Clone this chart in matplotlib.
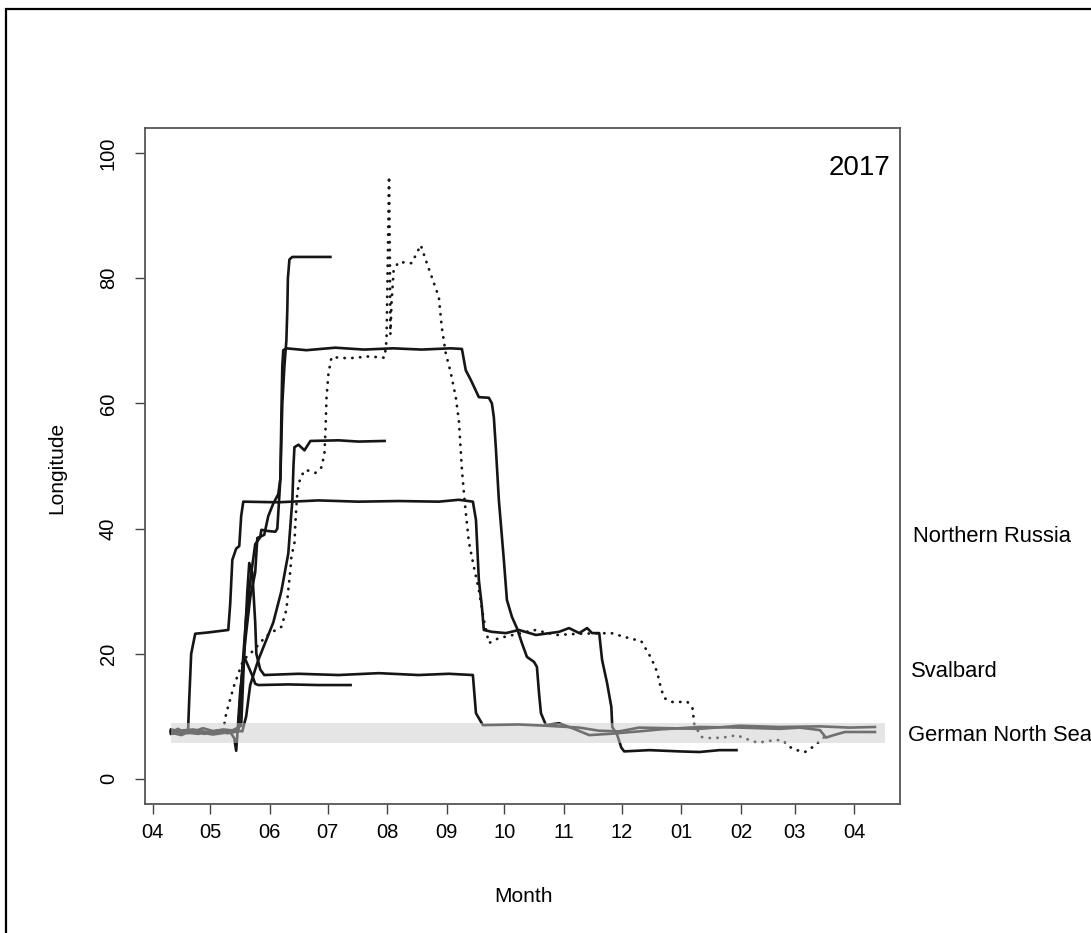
import matplotlib.pyplot as plt
import matplotlib.dates as mdates
import matplotlib.transforms as mtransforms
from matplotlib.patches import Rectangle
import numpy as np
import pandas as pd

plt.rcParams['font.family'] = ['Liberation Sans', 'DejaVu Sans']

start = pd.Timestamp('2017-04-01')

# tracks: days since 1 April 2017 and longitude (deg E)
track_a_day = [9.6, 13.3, 16.4, 18.5, 19.0, 20.1, 22.2, 28.9, 34.1, 39.4, 40.4, 41.5, 43.5, 45.1, 46.1,
               47.2, 65.4, 86.3, 107.1, 128.0, 148.9, 159.3, 166.6, 168.2, 169.7, 171.3, 172.3, 176.5,
               183.8, 190.5, 199.4, 211.4, 216.6, 221.9, 226.0, 228.6, 232.3, 233.8, 236.4, 238.6, 239.1,
               241.7, 243.8, 245.3, 258.4, 274.0, 284.4, 294.9, 303.7]
track_a_lon = [7.5, 8.0, 7.4, 7.8, 12, 20, 23.2, 23.4, 23.6, 23.8, 28, 35, 36.8, 37.2, 42,
               44.3, 44.2, 44.5, 44.3, 44.4, 44.3, 44.6, 44.3, 41.4, 31.8, 27.5, 23.8, 23.5,
               23.3, 23.8, 23.0, 23.5, 24.1, 23.3, 24.1, 23.3, 23.3, 19.0, 15.3, 11.5, 8.3,
               7.0, 5.0, 4.4, 4.6, 4.4, 4.3, 4.6, 4.6]

track_b_day = [9.6, 21.1, 31.5, 42.0, 44.6, 46.1, 48.7, 51.4, 53.4, 56.0, 56.6, 60.2, 63.9, 64.9,
               66.5, 67.5, 68.6, 69.6, 70.1, 70.4, 71.2, 72.7, 92.5]
track_b_lon = [7.6, 7.9, 7.3, 7.8, 8.0, 15, 26, 33, 37.5, 38.6, 39.8, 39.6, 39.5, 40,
               48, 60, 66, 70, 75, 80, 83.0, 83.4, 83.4]

track_c_day = [9.6, 15.0, 21.0, 27.0, 33.0, 39.0, 44.6, 46.1, 48.2, 50.8, 53.4, 54.5, 56.0, 58.1,
               60.2, 62.8, 65.4, 66.5, 67.0, 67.5, 68.0, 69.6, 80, 95, 110, 125, 140, 155, 160.9,
               162.9, 165.6, 169.7, 174.9, 176.5, 177.5, 178.6, 180.1, 182.7, 184.3, 186.9, 189.5,
               192.1, 194.7, 198.4, 199.9, 201.0, 202.0, 204.6, 211.4, 219.2, 227.1, 237.5, 253.1,
               263.6, 284.4, 305.3, 326.2, 336.6, 347.1, 350.2, 353.2, 360.0, 375.7]
track_c_lon = [7.4, 7.0, 7.8, 7.2, 7.7, 7.3, 7.6, 15, 22, 29, 33, 38.5, 38.7, 39,
               42, 44, 45.5, 48, 58, 66, 68.5, 68.8, 68.5, 68.9, 68.6, 68.8, 68.6, 68.8, 68.7,
               65.3, 63.7, 61.0, 60.9, 60.0, 57.8, 52.6, 44.6, 35, 28.6, 25.9, 24.1,
               21.7, 19.5, 18.7, 17.9, 13.7, 10.5, 8.6, 8.9, 8.0, 7.0, 7.2, 7.6,
               7.9, 8.3, 8.2, 8.0, 8.2, 7.8, 6.6, 6.9, 7.5, 7.5]

track_d_day = [9.6, 23.7, 36.8, 46.7, 48.7, 50.8, 55.0, 62.8, 67.0, 70.6, 72.2, 72.7, 73.3, 73.8,
               75.9, 79.0, 82.1, 96.8, 107.1, 120.7]
track_d_lon = [7.7, 7.2, 7.9, 7.6, 10, 15, 19, 25, 30, 36, 42.5, 44.3, 50, 53,
               53.4, 52.5, 54, 54.1, 53.9, 54.0]

track_e_day = [9.6, 18.5, 26.3, 34.1, 42.0, 46.1, 47.7, 49.3, 50.3, 51.9, 53.4, 54.0, 56.0, 58.1,
               75.9, 96.8, 117.6, 138.4, 154.0, 166.6, 168.2, 171.8, 190.5, 204.6, 221.9, 232.3,
               242.7, 253.1, 284.4, 305.3, 326.2, 347.1, 362.6, 375.7]
track_e_lon = [7.9, 7.3, 8.1, 7.4, 7.8, 8.5, 20, 30, 34.5, 33, 25, 20, 17.5, 16.6,
               16.8, 16.6, 16.9, 16.6, 16.8, 16.6, 10.5, 8.6, 8.7, 8.5, 8.2, 7.7,
               7.6, 8.2, 8.0, 8.5, 8.3, 8.4, 8.2, 8.3]

track_f_day = [9.6, 21.1, 31.5, 40.4, 42.5, 43.5, 44.1, 45.6, 47.7, 49.8, 51.9, 53.4, 55.0, 70.6,
               86.3, 103.0]
track_f_lon = [7.2, 7.6, 7.1, 7.5, 6.5, 4.5, 7, 14, 19.5, 18, 16.5, 15.2, 15.0, 15.1,
               15.0, 15.0]

# dotted track
track_g_day = [9.6, 15.9, 23.7, 31.5, 36.8, 37.8, 38.8, 42.5, 47.2, 52.4, 58.7, 61.3, 67.0, 69.6,
               70.6, 71.7, 72.2, 73.8, 74.3, 74.8, 75.3, 76.9, 79.5, 84.7, 87.9, 89.4, 89.9, 90.5,
               91.5, 93.1, 101.9, 112.4, 120.7, 121.7, 122.3, 123.0, 123.4, 123.7, 124.3, 125.4,
               128.0, 134.8, 139.5, 142.1, 145.2, 148.9, 150.4, 152.5, 155.1, 157.7, 159.3, 160.9,
               162.4, 164.5, 167.1, 169.7, 172.3, 174.9, 180.1, 190.5, 198.4, 210.4, 221.9, 238.6,
               245.3, 254.2, 258.4, 261.0, 262.6, 263.6, 264.7, 266.2, 270.3, 278.2, 280.8, 281.8,
               285.5, 290.7, 299.1, 303.7, 310.5, 314.7, 323.6, 327.7, 331.4, 335.0, 339.3, 343.4,
               346.1, 349.7]
track_g_lon = [7.6, 7.9, 7.3, 7.8, 7.5, 9.7, 11, 15, 19, 20.5, 22.7, 23.3, 24.3, 27,
               30.2, 33.4, 35.5, 37.7, 40.9, 43.5, 45.8, 48.2, 49.4, 48.9, 49.8, 52, 55.3, 61,
               64.8, 67.4, 67.2, 67.5, 67.3, 70.1, 82, 96.3, 84, 71, 76, 81.3,
               82.6, 82.4, 85.3, 82.9, 80.2, 77, 72.2, 68, 64.9, 61, 57.3, 49.4,
               44.1, 37.9, 33.9, 30.2, 25.4, 21.7, 22.5, 23.2, 23.8, 23.0, 23.2, 23.3,
               22.7, 22, 19.8, 18.2, 16.9, 15.5, 14.2, 12.9, 12.3, 12.3, 11.3, 8.6,
               6.7, 6.5, 6.7, 7.0, 6.2, 5.8, 6.2, 6.2, 5.1, 4.6, 4.3, 5.1,
               5.8, 6.8]

solid_tracks = [(track_a_day, track_a_lon), (track_b_day, track_b_lon), (track_c_day, track_c_lon),
                (track_d_day, track_d_lon), (track_e_day, track_e_lon), (track_f_day, track_f_lon)]

band_dates = ['2017-04-10 14:00', '2018-04-17 00:00']
band_lo, band_hi = 5.8, 8.9

regions = ['Northern Russia', 'Svalbard', 'German North Sea']
region_lon = [38.7, 17.1, 7.0]
region_x = [1.0172, 1.0146, 1.0106]


def to_dates(days):
    return start + pd.to_timedelta(np.array(days), unit='D')


fig = plt.figure(figsize=(10.91, 9.33), dpi=100)
ax = fig.add_axes([0.1329, 0.1383, 0.6920, 0.7245])

for days, lon in solid_tracks:
    ax.plot(to_dates(days), lon, color='#151515', lw=1.9, solid_joinstyle='round')
ax.plot(to_dates(track_g_day), track_g_lon, color='#151515', lw=2.0,
        linestyle=(0, (0.1, 2.7)), dash_capstyle='round')

# translucent band drawn over the tracks
ax.fill_between(pd.to_datetime(band_dates), band_lo, band_hi, color='#cccccc', alpha=0.5,
                lw=0, zorder=5)

ax.set_xlim(pd.Timestamp('2017-03-28 02:00'), pd.Timestamp('2018-04-24 17:00'))
ax.set_ylim(-4, 104)
ax.xaxis.set_major_locator(mdates.MonthLocator())
ax.xaxis.set_major_formatter(mdates.DateFormatter('%m'))
ax.set_yticks(range(0, 101, 20))

for s in ax.spines.values():
    s.set_color('#555555')
    s.set_linewidth(1.3)
ax.tick_params(direction='out', length=7.5, width=1.0, color='#444444', labelsize=14.5, pad=6)
ax.tick_params(axis='y', pad=12)
for lab in ax.get_yticklabels():
    lab.set_rotation(90)
    lab.set_va('center')

fig.text(523 / 1091, 1 - 897 / 933, 'Month', fontsize=15, ha='center', va='center')
fig.text(57 / 1091, 1 - 468 / 933, 'Longitude', fontsize=15, ha='center', va='center', rotation=90)

ax.text(0.9867, 0.9408, '2017', transform=ax.transAxes, fontsize=20, ha='right', va='center')

trans = mtransforms.blended_transform_factory(ax.transAxes, ax.transData)
for name, lon, xpos in zip(regions, region_lon, region_x):
    ax.text(xpos, lon, name, transform=trans, fontsize=15.8, ha='left', va='center', clip_on=False)

# frame around the whole figure (cut at right and bottom)
fig.add_artist(Rectangle((6 / 1091, -0.05), 1.2, 1.05 - 9 / 933, transform=fig.transFigure,
                         fill=False, ec='black', lw=1.6))

fig.savefig('out.png', dpi=100)
